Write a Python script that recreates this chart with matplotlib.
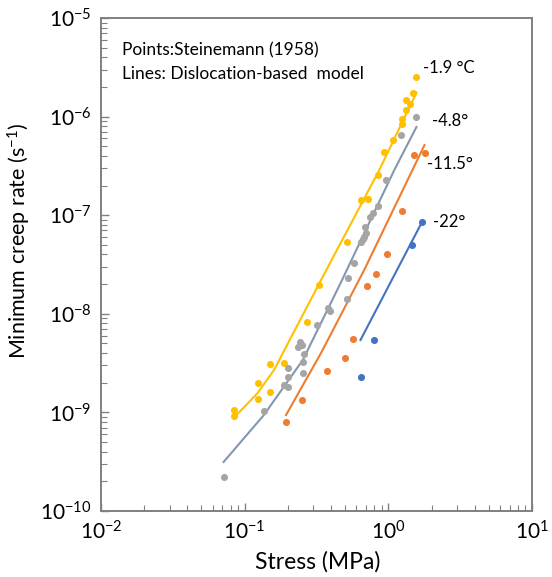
import matplotlib
matplotlib.use("Agg")
import matplotlib.pyplot as plt
from matplotlib.ticker import LogLocator, FuncFormatter, NullFormatter
import numpy as np

plt.rcParams['font.family'] = ['Lato', 'DejaVu Sans']
plt.rcParams['mathtext.fontset'] = 'custom'
plt.rcParams['mathtext.rm'] = 'Lato'
plt.rcParams['mathtext.default'] = 'regular'

# ---- data: Steinemann (1958) points ----
m19_x = [0.0838, 0.0838, 0.123, 0.123, 0.150, 0.150, 0.1875, 0.272, 0.329, 0.516,
         0.647, 0.724, 0.851, 0.938, 1.084, 1.253, 1.253, 1.337, 1.337, 1.425, 1.496, 1.570]
m19_y = [1.06e-9, 9.19e-10, 1.99e-9, 1.37e-9, 1.61e-9, 3.10e-9, 3.17e-9, 8.26e-9, 1.96e-8, 5.35e-8,
         1.43e-7, 1.46e-7, 2.56e-7, 4.38e-7, 5.79e-7, 8.41e-7, 9.46e-7, 1.17e-6, 1.47e-6, 1.34e-6, 1.73e-6, 2.52e-6]

m48_x = [0.0713, 0.136, 0.1875, 0.200, 0.200, 0.200, 0.254, 0.254, 0.259, 0.235, 0.250, 0.243,
         0.319, 0.380, 0.393, 0.516, 0.525, 0.578, 0.647, 0.668, 0.679, 0.702, 0.690, 0.748,
         0.785, 0.851, 0.968, 1.233, 1.570]
m48_y = [2.21e-10, 1.03e-9, 1.90e-9, 1.81e-9, 2.29e-9, 2.82e-9, 2.51e-9, 3.25e-9, 3.91e-9, 4.61e-9, 4.83e-9, 5.18e-9,
         7.70e-9, 1.15e-8, 1.07e-8, 1.41e-8, 2.31e-8, 3.27e-8, 5.35e-8, 5.74e-8, 6.01e-8, 6.60e-8, 7.59e-8, 9.59e-8,
         1.05e-7, 1.24e-7, 2.28e-7, 6.50e-7, 9.91e-7]

m115_x = [0.194, 0.250, 0.374, 0.500, 0.569, 0.713, 0.824, 0.984, 1.253, 1.52, 1.786]
m115_y = [8.0e-10, 1.34e-9, 2.63e-9, 3.56e-9, 5.55e-9, 1.91e-8, 2.53e-8, 4.04e-8, 1.10e-7, 4.08e-7, 4.27e-7]

m22_x = [0.647, 0.798, 1.472, 1.702]
m22_y = [2.29e-9, 5.42e-9, 4.99e-8, 8.53e-8]

# ---- data: dislocation-based model lines ----
l19_x = [0.0838, 0.123, 0.160, 0.340, 0.865, 1.570]
l19_y = [8.77e-10, 1.57e-9, 2.69e-9, 2.20e-8, 2.87e-7, 1.75e-6]

l48_x = [0.0713, 0.136, 0.254, 0.469, 1.10, 1.570]
l48_y = [3.14e-10, 9.4e-10, 3.40e-9, 2.10e-8, 2.87e-7, 7.85e-7]

l115_x = [0.194, 0.340, 0.679, 1.786]
l115_y = [9.4e-10, 4.0e-9, 2.78e-8, 5.15e-7]

l22_x = [0.64, 1.702]
l22_y = [5.42e-9, 8.34e-8]

temp_labels = ['-1.9 °C', '-4.8°', '-11.5°', '-22°']
label_pos_x = [1.73, 2.0, 1.87, 2.03]
label_pos_y = [3.11e-6, 9.0e-7, 3.3e-7, 8.5e-8]

c_yel = '#FFC000'
c_gry = '#A5A5A5'
c_gline = '#8497B0'
c_org = '#ED7D31'
c_blu = '#4472C4'

fig = plt.figure(figsize=(5.52, 5.77), dpi=100)
ax = fig.add_axes([101/552, 1-511/577, (532-101)/552, (511-18)/577])

lw = 1.5
ax.plot(l19_x, l19_y, color=c_yel, lw=lw, zorder=2)
ax.plot(l48_x, l48_y, color=c_gline, lw=lw, zorder=2)
ax.plot(l115_x, l115_y, color=c_org, lw=lw, zorder=2)
ax.plot(l22_x, l22_y, color=c_blu, lw=lw, zorder=2)

ms = 26
ax.scatter(m19_x, m19_y, s=ms, color=c_yel, zorder=3, linewidths=0)
ax.scatter(m48_x, m48_y, s=ms, color=c_gry, zorder=3, linewidths=0)
ax.scatter(m115_x, m115_y, s=ms, color=c_org, zorder=3, linewidths=0)
ax.scatter(m22_x, m22_y, s=ms, color=c_blu, zorder=3, linewidths=0)

ax.set_xscale('log')
ax.set_yscale('log')
ax.set_xlim(1e-2, 1e1)
ax.set_ylim(1e-10, 1e-5)

fmt = FuncFormatter(lambda v, p: r'$\mathregular{10^{%d}}$' % int(round(np.log10(v))))
ax.xaxis.set_major_locator(LogLocator(base=10, numticks=10))
ax.yaxis.set_major_locator(LogLocator(base=10, numticks=10))
ax.xaxis.set_minor_locator(LogLocator(base=10, subs=np.arange(2, 10), numticks=20))
ax.yaxis.set_minor_locator(LogLocator(base=10, subs=np.arange(2, 10), numticks=20))
ax.xaxis.set_major_formatter(fmt)
ax.yaxis.set_major_formatter(fmt)
ax.xaxis.set_minor_formatter(NullFormatter())
ax.yaxis.set_minor_formatter(NullFormatter())

spine_c = '#808080'
for s in ax.spines.values():
    s.set_color(spine_c)
    s.set_linewidth(1.4)
ax.tick_params(which='both', direction='in', color=spine_c, top=False, right=False)
ax.tick_params(which='major', length=6, width=1.0, labelsize=15, pad=7)
ax.tick_params(which='minor', length=4, width=0.8)

ax.set_xlabel('Stress (MPa)', fontsize=16.5)
ax.xaxis.set_label_coords((318-101)/431, (511-551)/493)
ax.set_ylabel('Minimum creep rate (s$^{-1}$)', fontsize=15.5)
ax.yaxis.set_label_coords((33-101)/431, (511-241)/493)

ax.text(0.048, 0.935, 'Points:Steinemann (1958)', transform=ax.transAxes, fontsize=12.5, va='center')
ax.text(0.048, 0.886, 'Lines: Dislocation-based  model', transform=ax.transAxes, fontsize=12.5, va='center')

for t, x, y in zip(temp_labels, label_pos_x, label_pos_y):
    ax.text(x, y, t, fontsize=12, va='center', ha='left')

fig.savefig('out.png', dpi=100)
